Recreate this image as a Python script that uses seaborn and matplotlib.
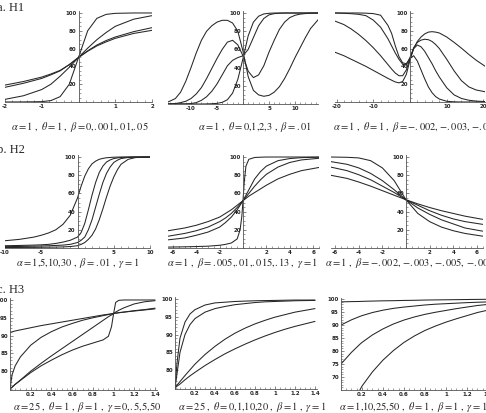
import matplotlib as mpl

mpl.use("Agg")
import matplotlib.pyplot as plt
import pandas as pd
import seaborn as sns
from matplotlib.ticker import FixedLocator, MultipleLocator, FormatStrFormatter

sns.set_style("ticks")
mpl.rcParams["mathtext.fontset"] = "stix"
mpl.rcParams["font.family"] = ["DejaVu Sans"]

W, H = 486, 413
LINE = "#262626"

# ---- row a: H1 ----
a1_x = [-2, -1.5, -1, -0.75, -0.5, -0.25, 0, 0.25, 0.5, 0.75, 1, 1.5, 2]
a1_b0 = [0, 0.1, 0.4, 1.6, 6, 20, 50, 80, 94, 98.4, 99.6, 100, 100]
a1_b001 = [3, 7, 14, 20, 29, 39, 50, 60.5, 70, 78, 85, 93, 97]
a1_b01 = [19, 23, 28, 31.5, 35.5, 42, 50, 57.5, 64, 69, 73, 79, 83.5]
a1_b05 = [16.5, 21, 26.5, 30.5, 35, 42, 50, 57, 63, 67.5, 71.5, 77, 80.5]

a2_x = [-14.5, -13, -12, -11, -10, -9, -8, -7, -6, -5, -4, -3, -2, -1, 0,
        1, 2, 3, 4, 5, 6, 7, 8, 9, 10, 11, 12, 13, 14.5]
a2_t0 = [0, 0, 0, 0, 0, 0, 0, 0.1, 0.3, 0.7, 1.8, 4.7, 12, 27, 50,
         75, 90, 96.5, 99, 99.7, 100, 100, 100, 100, 100, 100, 100, 100, 100]
a2_t1 = [0, 0, 0, 0, 0.5, 1.5, 4, 8, 14, 22, 32, 42, 48, 51, 53,
         60, 73, 86, 94, 98, 99.3, 99.8, 100, 100, 100, 100, 100, 100, 100]
a2_t2 = [0, 0.5, 1.5, 3, 6, 11, 18, 28, 39, 50, 60, 68, 70, 65, 53,
         36, 29, 32, 42, 57, 70, 82, 90, 95, 97.5, 98.8, 99.4, 99.8, 100]
a2_t3 = [2, 6, 13, 25, 40, 56, 70, 80, 86, 90, 92, 92, 89, 80, 58,
         30, 15, 10, 8.5, 9.5, 13, 19, 28, 39, 51, 62, 73, 83, 93]

a3_x = [-20.5, -18, -16, -14, -12, -10, -8, -6, -5, -4, -3, -2, -1, 0,
        1, 2, 3, 4, 5, 6, 7, 8, 10, 12, 14, 16, 18, 20.5]
a3_b002 = [56, 52, 48, 44, 40, 35.5, 31, 26.5, 24.5, 22.5, 21.5, 23, 31, 47,
           60, 68, 73, 76.5, 78.5, 79, 78.5, 77.5, 73, 67, 60.5, 53.5, 47, 40]
a3_b003 = [91, 87, 82, 76, 69, 61, 52, 42, 37, 32.5, 29.5, 29.5, 36, 49,
           61, 67, 69.5, 70.5, 70, 68, 64.5, 60, 48, 35, 24, 17, 13.5, 11.5]
a3_b005 = [100, 99.6, 99.2, 98.5, 97, 92, 84, 71, 63, 55, 48, 42.5, 41.5, 50,
           60, 64, 62, 57, 50, 43, 35, 28, 16, 8, 4, 2, 1, 0.5]
a3_b009 = [100, 100, 100, 100, 99.8, 99.3, 97.5, 86, 77, 63, 51, 44, 43, 49,
           52, 46, 36, 26, 17, 10.5, 6, 3.3, 0.8, 0.2, 0, 0, 0, 0]

# ---- row b: H2 ----
b1_x = [-10, -8, -6, -5, -4, -3, -2, -1, 0, 0.5, 1, 1.5, 2, 2.5, 3, 3.5,
        4, 4.5, 5, 5.5, 6, 7, 8, 10]
b1_a1 = [8, 9.5, 12, 14, 16.5, 20, 26, 36, 55, 68, 79, 87, 92.5, 95.5, 97.5, 98.5,
         99.2, 99.5, 99.8, 99.9, 100, 100, 100, 100]
b1_a5 = [2.5, 2.8, 3.2, 3.5, 4, 5, 6.5, 8.5, 12, 17, 27, 42, 58, 72, 83, 90,
         94.5, 96.8, 98.3, 99, 99.5, 99.9, 100, 100]
b1_a10 = [1.5, 1.7, 2, 2.2, 2.5, 2.8, 3.2, 4, 6, 8.5, 12, 20, 31, 45, 59, 72,
          82, 89, 94, 96.5, 98.3, 99.5, 99.9, 100]
b1_a30 = [0.5, 0.6, 0.7, 0.8, 0.9, 1, 1.2, 1.6, 2.5, 4, 6, 9.5, 14, 21, 31, 43,
          56, 68, 78, 86, 92, 97.5, 99.4, 100]

b2_x = [-6.4, -5, -4, -3, -2, -1.5, -1, -0.5, -0.25, -0.1, 0, 0.1, 0.25, 0.5,
        1, 1.5, 2, 3, 4, 5, 6.5]
b2_b005 = [19, 22, 25, 29, 34, 38, 42, 47, 49.5, 51, 52, 53, 54.5, 57,
           61, 65, 69, 76, 81, 85, 88.5]
b2_b01 = [13, 16, 19, 23, 29, 33, 38, 44.5, 48, 50.5, 52, 53.5, 56, 60,
          68, 75, 81, 89, 94, 96.8, 98.6]
b2_b015 = [9, 11, 14, 17.5, 23, 28, 34, 42, 47, 50, 52, 54.5, 58, 64,
           76, 84, 90, 96, 98.3, 99.3, 99.8]
b2_b13 = [1, 1.3, 1.6, 2, 3, 4, 5.5, 10, 20, 35, 52, 72, 90, 97.5,
          99.5, 99.8, 100, 100, 100, 100, 100]

b3_x = [-6.4, -5, -4, -3, -2, -1, 0, 1, 2, 3, 4, 5, 6.5]
b3_b009 = [100, 99.7, 99, 96, 88, 74, 53, 38, 29, 23, 19, 16, 13]
b3_b005 = [95, 92, 88, 82, 74, 64, 53, 44, 37, 31, 26.5, 22, 18.5]
b3_b003 = [89, 85, 80.5, 75, 68, 61, 53, 47, 41, 36, 32, 29, 26]
b3_b002 = [80, 76.5, 72.5, 68, 63, 58, 53, 48.5, 44.5, 41, 38, 35, 31.5]

# ---- row c: H3 ----
c1_x = [0, 0.02, 0.05, 0.1, 0.2, 0.3, 0.4, 0.5, 0.6, 0.7, 0.8, 0.9, 0.95, 0.98,
        1, 1.02, 1.05, 1.1, 1.2, 1.3, 1.4]
c1_g0 = [90.9, 91.05, 91.3, 91.6, 92.2, 92.8, 93.3, 93.8, 94.3, 94.8, 95.3, 95.8, 96, 96.1,
         96.2, 96.3, 96.4, 96.6, 96.9, 97.2, 97.5]
c1_g05 = [75, 79, 81.5, 84, 87.3, 89.5, 91.1, 92.4, 93.4, 94.3, 95, 95.6, 95.9, 96.1,
          96.2, 96.3, 96.45, 96.6, 97, 97.3, 97.7]
c1_g5 = [75, 75.5, 76.3, 77.5, 80, 82.2, 84.3, 86.3, 88.3, 90.3, 92.3, 94.3, 95.3, 95.8,
         96.2, 96.6, 97.1, 97.8, 98.9, 99.5, 99.8]
c1_g50 = [75, 75.5, 76.3, 77.4, 79.6, 81.5, 83.1, 84.6, 85.9, 87, 87.9, 88.8, 89.8, 92.5,
          96.2, 99.3, 99.9, 100, 100, 100, 100]

c2_x = [0, 0.02, 0.05, 0.1, 0.15, 0.2, 0.3, 0.4, 0.5, 0.6, 0.7, 0.8, 0.9, 1,
        1.1, 1.2, 1.3, 1.4]
c2_t0 = [75, 82, 89, 93.5, 95.8, 97, 98.3, 98.9, 99.1, 99.3, 99.4, 99.5, 99.55, 99.6,
         99.65, 99.7, 99.7, 99.7]
c2_t1 = [75, 79, 85, 90, 92.8, 94.5, 96.3, 97.3, 97.9, 98.4, 98.7, 99, 99.2, 99.3,
         99.4, 99.5, 99.55, 99.6]
c2_t10 = [75, 75.8, 76.8, 78.5, 80.1, 81.7, 84.4, 86.7, 88.7, 90.4, 91.8, 93, 94, 94.9,
          95.6, 96.3, 96.8, 97.3]
c2_t20 = [75, 75.5, 76.1, 77.3, 78.4, 79.4, 81.3, 83, 84.6, 86, 87.3, 88.5, 89.6, 90.6,
          91.5, 92.3, 93, 93.7]

c3_x = [0, 0.1, 0.18, 0.2, 0.3, 0.4, 0.5, 0.6, 0.7, 0.8, 0.9, 1, 1.1, 1.2, 1.3, 1.42]
c3_a1 = [98.9, 99, 99.05, 99.1, 99.2, 99.3, 99.35, 99.45, 99.5, 99.6, 99.65, 99.7, 99.75,
         99.8, 99.85, 99.9]
c3_a10 = [90, 92, 93.3, 93.6, 94.8, 95.7, 96.4, 96.9, 97.3, 97.7, 98, 98.2, 98.4,
          98.6, 98.75, 98.9]
c3_a25 = [75, 79.5, 82.6, 83.3, 86.2, 88.5, 90.4, 91.9, 93.1, 94.1, 94.9, 95.6, 96.3,
          96.9, 97.5, 98]
c3_a50 = [50, 58.5, 65, 66.5, 72, 76.5, 80.2, 83.3, 85.8, 87.9, 89.6, 91.1, 92.4,
          93.6, 94.8, 95.9]

# {,} keeps mathtext from adding punctuation space after commas
captions = [
    r"$\alpha = 1\ ,\ \theta = 1\ ,\ \beta = 0{,}.001{,}.01{,}.05$",
    r"$\alpha = 1\ ,\ \theta = 0{,}1{,}2{,}3\ ,\ \beta = .01$",
    r"$\alpha = 1\ ,\ \theta = 1\ ,\ \beta = -.002{,}\ {-}.003{,}\ {-}.005{,}\ {-}.009$",
    r"$\alpha = 1{,}5{,}10{,}30\ ,\ \beta = .01\ ,\ \gamma = 1$",
    r"$\alpha = 1\ ,\ \beta = .005{,}.01{,}.015{,}.13\ ,\ \gamma = 1$",
    r"$\alpha = 1\ ,\ \beta = -.002{,}\ {-}.003{,}\ {-}.005{,}\ {-}.009\ ,\ \gamma = 1$",
    r"$\alpha = 25\ ,\ \theta = 1\ ,\ \beta = 1\ ,\ \gamma = 0{,}.5{,}5{,}50$",
    r"$\alpha = 25\ ,\ \theta = 0{,}1{,}10{,}20\ ,\ \beta = 1\ ,\ \gamma = 1$",
    r"$\alpha = 1{,}10{,}25{,}50\ ,\ \theta = 1\ ,\ \beta = 1\ ,\ \gamma = 1$",
]
row_titles = ["a. H1", "b. H2", "c. H3"]


def px_rect(left, right, top, bottom):
    return [left / W, 1 - bottom / H, (right - left) / W, (bottom - top) / H]


def draw_panel(fig, rect, x, curves, xlim, ylim, xticks, xminor, yticks, yminor):
    ax = fig.add_axes(rect)
    df = pd.concat(
        [pd.DataFrame({"x": x, "y": ys, "curve": i}) for i, ys in enumerate(curves)]
    )
    sns.lineplot(data=df, x="x", y="y", units="curve", estimator=None,
                 color=LINE, linewidth=0.75, legend=False, ax=ax)
    ax.set_xlim(*xlim)
    ax.set_ylim(*ylim)
    ax.set_xlabel("")
    ax.set_ylabel("")
    ax.patch.set_alpha(0)
    for s in ["top", "right"]:
        ax.spines[s].set_visible(False)
    ax.spines["left"].set_position(("data", 0))
    ax.spines["bottom"].set_position(("data", ylim[0]))
    for s in ["left", "bottom"]:
        ax.spines[s].set_color("#555555")
        ax.spines[s].set_linewidth(0.6)
    ax.xaxis.set_major_locator(FixedLocator(xticks))
    ax.yaxis.set_major_locator(FixedLocator(yticks))
    ax.xaxis.set_minor_locator(MultipleLocator(xminor))
    ax.yaxis.set_minor_locator(MultipleLocator(yminor))
    ax.xaxis.set_major_formatter(FormatStrFormatter("%g"))
    ax.yaxis.set_major_formatter(FormatStrFormatter("%g"))
    ax.tick_params(which="major", length=2.2, width=0.5, direction="in",
                   labelsize=4, pad=1.5, color="#555555")
    ax.tick_params(which="minor", length=1.2, width=0.4, direction="in",
                   color="#555555")
    for lab in ax.get_xticklabels() + ax.get_yticklabels():
        lab.set_fontweight("bold")
    return ax


fig = plt.figure(figsize=(W / 100, H / 100), dpi=100)

# row a
draw_panel(fig, px_rect(5, 152, 11.2, 102), a1_x,
           [a1_b0, a1_b001, a1_b01, a1_b05], (-2, 2), (0, 102),
           [-2, -1, 1, 2], 0.2, [20, 40, 60, 80, 100], 5)
draw_panel(fig, px_rect(167.6, 318.4, 11.2, 104), a2_x,
           [a2_t0, a2_t1, a2_t2, a2_t3], (-14.5, 14.5), (0, 102),
           [-10, -5, 5, 10], 1, [20, 40, 60, 80, 100], 5)
draw_panel(fig, px_rect(334.7, 485.3, 11.2, 102), a3_x,
           [a3_b002, a3_b003, a3_b005, a3_b009], (-20.5, 20.5), (0, 102),
           [-20, -10, 10, 20], 2, [20, 40, 60, 80, 100], 5)

# row b
draw_panel(fig, px_rect(5, 150, 155.2, 248), b1_x,
           [b1_a1, b1_a5, b1_a10, b1_a30], (-10, 10), (0, 102),
           [-10, -5, 5, 10], 1, [20, 40, 60, 80, 100], 5)
draw_panel(fig, px_rect(168.3, 318.9, 155.2, 248), b2_x,
           [b2_b005, b2_b01, b2_b015, b2_b13], (-6.4, 6.5), (0, 102),
           [-6, -4, -2, 2, 4, 6], 0.5, [20, 40, 60, 80, 100], 5)
draw_panel(fig, px_rect(330.5, 482.7, 155.2, 248), b3_x,
           [b3_b009, b3_b005, b3_b003, b3_b002], (-6.4, 6.5), (0, 102),
           [-6, -4, -2, 2, 4, 6], 0.5, [20, 40, 60, 80, 100], 5)

# row c
draw_panel(fig, px_rect(10, 157.1, 298.2, 390.4), c1_x,
           [c1_g0, c1_g05, c1_g5, c1_g50], (0, 1.42), (74.6, 100.5),
           [0.2, 0.4, 0.6, 0.8, 1, 1.2, 1.4], 0.05, [80, 85, 90, 95, 100], 1)
draw_panel(fig, px_rect(175, 317, 297.2, 389.4), c2_x,
           [c2_t0, c2_t1, c2_t10, c2_t20], (0, 1.42), (74.6, 100.5),
           [0.2, 0.4, 0.6, 0.8, 1, 1.2, 1.4], 0.05, [80, 85, 90, 95, 100], 1)
draw_panel(fig, px_rect(341, 490, 297.7, 389.5), c3_x,
           [c3_a1, c3_a10, c3_a25, c3_a50], (0, 1.42), (65.2, 100.5),
           [0.2, 0.4, 0.6, 0.8, 1, 1.2, 1.4], 0.05,
           [70, 75, 80, 85, 90, 95, 100], 1)

# captions
cap_pos = [(80, 127, "center"), (255, 127, "center"), (333, 127, "left"),
           (78, 263, "center"), (243, 263, "center"), (325, 263, "left"),
           (87, 407, "center"), (252, 407, "center"), (413, 407, "center")]
for (cx, cy, ha), txt in zip(cap_pos, captions):
    fig.text(cx / W, 1 - cy / H, txt, ha=ha, va="center", fontsize=7.5)

for ty, t in zip([8, 150, 290], row_titles):
    fig.text(-3 / W, 1 - ty / H, t, ha="left", va="center", fontsize=9,
             family="Liberation Serif")

fig.savefig("out.png", dpi=100)
